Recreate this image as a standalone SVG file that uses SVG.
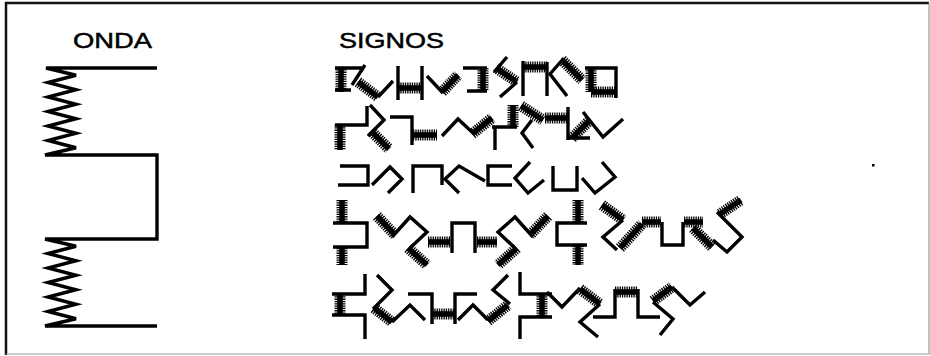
<svg xmlns="http://www.w3.org/2000/svg" width="930" height="356" viewBox="0 0 930 356">
<style>
.ln{fill:none;stroke:#000;stroke-width:3.4;stroke-linecap:butt;stroke-linejoin:miter}
.sp{fill:none;stroke:#000;stroke-width:11;stroke-dasharray:1.3 1}
.spc{fill:none;stroke:#000;stroke-width:5.5}
.lbl{font-family:"Liberation Sans",Arial,sans-serif;font-size:22px;fill:#000;stroke:#000;stroke-width:0.5}
</style>
<rect width="930" height="356" fill="#fff"/>
<g id="frame">
<path d="M6,355 V3 H929" fill="none" stroke="#111" stroke-width="2.5"/>
<path d="M929,3 V354 H6" fill="none" stroke="#999" stroke-width="1.2"/>
</g>
<g id="onda">
<text class="lbl" x="73" y="48" textLength="79" lengthAdjust="spacingAndGlyphs">ONDA</text>
<path class="ln" d="M157,68 H46 L76,75.25 L48,82.5 L76,89.75 L48,97 L76,104.25 L48,111.5 L76,118.75 L48,126 L76,133.25 L48,140.5 L76,147.75 L45,155 H157 V239 H45 L76,246.25 L48,253.5 L76,260.75 L48,268 L76,275.25 L48,282.5 L76,289.75 L48,297 L76,304.25 L48,311.5 L76,318.75 L45,326 H157"/>
</g>
<g id="signos">
<text class="lbl" x="339" y="48" textLength="105" lengthAdjust="spacingAndGlyphs">SIGNOS</text>
<g id="row1">
<path class="ln" d="M335,68 H362 M335,90 H351 M365,65 L352,85 M378,97 L393,81"/>
<path class="sp" d="M341,67 V92 M358,82 L378,97"/><path class="spc" d="M341,67 V92 M358,82 L378,97"/>
<path class="ln" d="M398,66 V100 M422,66 V100"/>
<path class="sp" d="M398,88 H422"/><path class="spc" d="M398,88 H422"/>
<path class="ln" d="M427,76 L443,93 M463,68 H487 M467,91 H487"/>
<path class="sp" d="M442,92 L458,75 M483,68 V91"/><path class="spc" d="M442,92 L458,75 M483,68 V91"/>
<path class="ln" d="M507,57 L494,72 M517,82 L500,97"/>
<path class="sp" d="M496,68 L517,82"/><path class="spc" d="M496,68 L517,82"/>
<path class="ln" d="M523,61 V96 M547,62 V96"/>
<path class="sp" d="M523,67 H547"/><path class="spc" d="M523,67 H547"/>
<path class="ln" d="M564,58 L550,74 L567,96"/>
<path class="sp" d="M562,60 L582,80"/><path class="spc" d="M562,60 L582,80"/>
<path class="ln" d="M585,68 H616 V98"/>
<path class="sp" d="M591,68 V92 M591,92 H615"/><path class="spc" d="M591,68 V92 M591,92 H615"/>
</g>
<g id="row2">
<path class="ln" d="M367,106 V125 H335 M370,105 L384,120 L368,136"/>
<path class="sp" d="M340,125 V150 M371,131 L389,149"/><path class="spc" d="M340,125 V150 M371,131 L389,149"/>
<path class="ln" d="M390,117 H412 V145"/>
<path class="sp" d="M413,135 H437"/><path class="spc" d="M413,135 H437"/>
<path class="ln" d="M442,136 L458,119 L473,133"/>
<path class="sp" d="M472,134 L492,118"/><path class="spc" d="M472,134 L492,118"/>
<path class="ln" d="M492,127 H517 M495,127 V150 M568,107 V140 M532,120 L522,133 L533,148"/>
<path class="sp" d="M513,105 V127 M521,106 L543,120 M545,118 H567"/><path class="spc" d="M513,105 V127 M521,106 L543,120 M545,118 H567"/>
<path class="ln" d="M568,138 H590 M583,112 L603,137 L623,119"/>
<path class="sp" d="M572,138 L590,120"/><path class="spc" d="M572,138 L590,120"/>
</g>
<g id="row3">
<path class="ln" d="M340,166 H368 V185 H338 M372,185 L390,167 L402,179 L388,193 M413,193 V166 H442 V185 M485,181 L459,166 L445,179 L459,193 M512,166 H488 V185 H512 M530,162 L515,178 L528,193 L544,180 M553,166 V190 H577 V166 M582,178 L595,193 L615,177 L602,162"/>
</g>
<g id="row4">
<path class="ln" d="M333,223 H367 V247 H333"/>
<path class="sp" d="M342,200 V222 M342,248 V265"/><path class="spc" d="M342,200 V222 M342,248 V265"/>
<path class="ln" d="M392,237 L410,217 L427,232 L410,248"/>
<path class="sp" d="M377,216 L395,235 M408,248 L427,265"/><path class="spc" d="M377,216 L395,235 M408,248 L427,265"/>
<path class="ln" d="M452,253 V223 H475 V253"/>
<path class="sp" d="M428,242 H450 M477,242 H497"/><path class="spc" d="M428,242 H450 M477,242 H497"/>
<path class="ln" d="M533,237 L515,217 L498,232 L515,248"/>
<path class="sp" d="M548,216 L530,235 M517,248 L498,265"/><path class="spc" d="M548,216 L530,235 M517,248 L498,265"/>
<path class="ln" d="M587,223 H557 V245 H587"/>
<path class="sp" d="M578,200 V222 M578,246 V265"/><path class="spc" d="M578,200 V222 M578,246 V265"/>
<path class="ln" d="M623,220 L603,237 L617,250"/>
<path class="sp" d="M602,205 L623,220 M620,248 L642,224"/><path class="spc" d="M602,205 L623,220 M620,248 L642,224"/>
<path class="ln" d="M662,222 V245 H683 V222"/>
<path class="sp" d="M642,222 H661 M684,222 H703"/><path class="spc" d="M642,222 H661 M684,222 H703"/>
<path class="ln" d="M717,212 L742,237 L727,252 L713,240"/>
<path class="sp" d="M720,214 L741,200 M693,228 L712,247"/><path class="spc" d="M720,214 L741,200 M693,228 L712,247"/>
</g>
<g id="row5">
<path class="ln" d="M365,274 V294 H332 M332,315 H365 V339"/>
<path class="sp" d="M340,294 V315"/><path class="spc" d="M340,294 V315"/>
<path class="ln" d="M377,275 L392,290 L373,309 M392,322 L410,305 L425,320"/>
<path class="sp" d="M374,308 L392,322"/><path class="spc" d="M374,308 L392,322"/>
<path class="ln" d="M408,294 H432 V324 M455,324 V294 H477"/>
<path class="sp" d="M432,314 H455"/><path class="spc" d="M432,314 H455"/>
<path class="ln" d="M458,320 L473,305 L488,320 M510,304 L493,290 L508,275"/>
<path class="sp" d="M488,321 L508,305"/><path class="spc" d="M488,321 L508,305"/>
<path class="ln" d="M520,272 V294 H552 M552,317 H520 V339"/>
<path class="sp" d="M542,294 V317"/><path class="spc" d="M542,294 V317"/>
<path class="ln" d="M547,292 L562,307 L580,288 M600,304 L580,322 L598,337"/>
<path class="sp" d="M580,289 L600,304"/><path class="spc" d="M580,289 L600,304"/>
<path class="ln" d="M593,317 H615 V289 M638,289 V317 H660"/>
<path class="sp" d="M615,292 H638"/><path class="spc" d="M615,292 H638"/>
<path class="ln" d="M672,287 L690,305 L705,292 M653,302 L673,319 L660,335"/>
<path class="sp" d="M653,301 L672,287"/><path class="spc" d="M653,301 L672,287"/>
</g>
</g>
<rect x="872" y="164" width="2.5" height="2.5" fill="#000"/>
</svg>
